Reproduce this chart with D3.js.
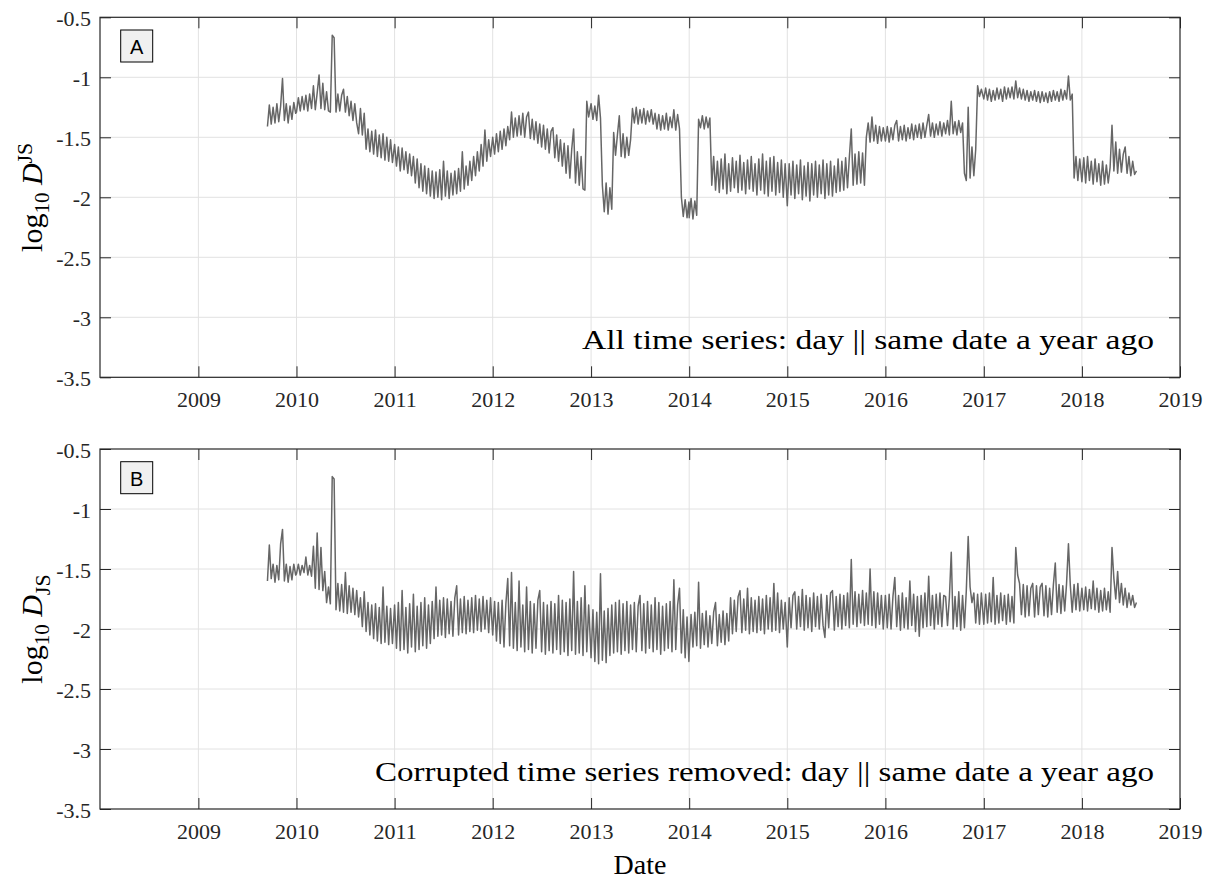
<!DOCTYPE html>
<html><head><meta charset="utf-8">
<script src="https://cdn.jsdelivr.net/npm/d3@7"></script>
<style>body{margin:0;background:#fff}svg{display:block}</style>
</head><body>
<script>
// ---------------- DATA (weekly readings, log10 D_JS) ----------------
const years = [2009,2010,2011,2012,2013,2014,2015,2016,2017,2018];

// Panel A: all time series
const A2009 = [-1.41,-1.23,-1.39,-1.25,-1.38,-1.22,-1.37,-1.24,-1.01,-1.36,-1.22,-1.38,-1.24,-1.35,-1.21,-1.30];
const A2010 = [-1.29,-1.17,-1.28,-1.16,-1.27,-1.15,-1.28,-1.14,-1.26,-1.07,-1.27,-1.13,-0.98,-1.26,-1.05,-1.27,-1.12,-1.28,-1.29,-0.65,-0.67,-1.29,-1.14,-1.28,-1.15,-1.10,-1.29,-1.16,-1.32,-1.20,-1.36,-1.22,-1.38,-1.47,-1.26,-1.48,-1.30,-1.60,-1.43,-1.62,-1.45,-1.64,-1.44,-1.66,-1.48,-1.67,-1.47,-1.69,-1.50,-1.70,-1.52,-1.71];
const A2011 = [-1.56,-1.74,-1.58,-1.78,-1.59,-1.77,-1.62,-1.80,-1.64,-1.82,-1.66,-1.88,-1.68,-1.92,-1.72,-1.95,-1.74,-1.97,-1.76,-1.99,-1.78,-2.01,-1.79,-2.00,-1.77,-2.02,-1.70,-1.99,-1.78,-2.01,-1.80,-1.98,-1.78,-1.97,-1.76,-1.95,-1.62,-1.93,-1.74,-1.90,-1.70,-1.86,-1.66,-1.82,-1.62,-1.78,-1.56,-1.74,-1.44,-1.70,-1.52,-1.66];
const A2012 = [-1.50,-1.64,-1.47,-1.62,-1.45,-1.60,-1.43,-1.57,-1.41,-1.52,-1.29,-1.50,-1.34,-1.49,-1.32,-1.48,-1.30,-1.50,-1.33,-1.29,-1.51,-1.35,-1.52,-1.37,-1.55,-1.39,-1.58,-1.40,-1.60,-1.43,-1.63,-1.45,-1.42,-1.67,-1.48,-1.70,-1.52,-1.74,-1.55,-1.80,-1.57,-1.84,-1.60,-1.43,-1.88,-1.62,-1.90,-1.66,-1.93,-1.94,-1.20,-1.33];
const A2013 = [-1.22,-1.35,-1.24,-1.36,-1.15,-1.34,-1.90,-2.12,-1.88,-2.14,-1.92,-2.10,-1.46,-1.65,-1.48,-1.32,-1.66,-1.47,-1.67,-1.50,-1.65,-1.52,-1.26,-1.38,-1.25,-1.39,-1.27,-1.38,-1.26,-1.39,-1.28,-1.37,-1.27,-1.39,-1.30,-1.43,-1.31,-1.44,-1.32,-1.43,-1.30,-1.44,-1.33,-1.42,-1.27,-1.44,-1.31,-1.43,-2.00,-2.16,-2.02,-2.17,-2.04];
const A2014 = [-2.17,-2.01,-2.18,-2.03,-2.15,-1.35,-1.42,-1.32,-1.43,-1.33,-1.42,-1.34,-1.90,-1.66,-1.94,-1.70,-1.96,-1.68,-1.93,-1.64,-1.97,-1.72,-1.95,-1.67,-1.92,-1.70,-1.96,-1.65,-1.94,-1.71,-1.97,-1.69,-1.93,-1.66,-1.95,-1.72,-1.98,-1.68,-1.94,-1.64,-1.97,-1.70,-1.99,-1.67,-1.95,-1.66,-1.98,-1.71,-1.96,-1.69,-2.00,-1.72];
const A2015 = [-2.07,-1.72,-1.98,-1.70,-2.01,-1.73,-1.97,-1.69,-2.02,-1.74,-1.99,-1.71,-2.03,-1.72,-1.98,-1.70,-2.00,-1.73,-1.97,-1.69,-2.01,-1.72,-1.98,-1.70,-1.99,-1.74,-1.96,-1.68,-1.95,-1.70,-1.94,-1.67,-1.92,-1.66,-1.43,-1.90,-1.64,-1.89,-1.62,-1.88,-1.63,-1.90,-1.50,-1.38,-1.54,-1.33,-1.53,-1.40,-1.55,-1.41,-1.53,-1.42];
const A2016 = [-1.53,-1.41,-1.54,-1.42,-1.52,-1.40,-1.36,-1.53,-1.41,-1.52,-1.40,-1.53,-1.42,-1.51,-1.39,-1.52,-1.40,-1.50,-1.39,-1.51,-1.38,-1.50,-1.40,-1.31,-1.49,-1.38,-1.50,-1.39,-1.48,-1.37,-1.49,-1.38,-1.47,-1.36,-1.48,-1.20,-1.47,-1.37,-1.48,-1.36,-1.46,-1.38,-1.80,-1.86,-1.25,-1.84,-1.58,-1.82,-1.60,-1.07,-1.16,-1.10];
const A2017 = [-1.18,-1.09,-1.19,-1.10,-1.20,-1.11,-1.19,-1.09,-1.18,-1.10,-1.20,-1.08,-1.18,-1.09,-1.17,-1.08,-1.18,-1.03,-1.17,-1.09,-1.18,-1.10,-1.19,-1.11,-1.20,-1.12,-1.19,-1.11,-1.20,-1.12,-1.21,-1.12,-1.20,-1.13,-1.21,-1.12,-1.20,-1.11,-1.19,-1.12,-1.20,-1.10,-1.19,-1.11,-1.18,-0.99,-1.19,-1.14,-1.84,-1.66,-1.86,-1.68];
const A2018 = [-1.87,-1.67,-1.88,-1.66,-1.86,-1.70,-1.89,-1.68,-1.87,-1.72,-1.90,-1.70,-1.89,-1.73,-1.88,-1.75,-1.40,-1.78,-1.54,-1.80,-1.60,-1.79,-1.64,-1.58,-1.80,-1.66,-1.82,-1.70,-1.81,-1.78];

// Panel B: corrupted time series removed
const B2009 = [-1.60,-1.30,-1.58,-1.46,-1.61,-1.47,-1.59,-1.29,-1.17,-1.60,-1.46,-1.61,-1.48,-1.59,-1.46,-1.55];
const B2010 = [-1.54,-1.46,-1.55,-1.47,-1.53,-1.40,-1.55,-1.47,-1.56,-1.31,-1.66,-1.20,-1.67,-1.32,-1.68,-1.52,-1.78,-1.65,-1.79,-0.73,-0.75,-1.84,-1.62,-1.85,-1.63,-1.86,-1.53,-1.87,-1.64,-1.86,-1.66,-1.88,-1.68,-1.90,-1.74,-1.98,-1.69,-2.02,-1.78,-2.05,-1.80,-2.08,-1.79,-2.10,-1.82,-2.12,-1.65,-2.11,-1.81,-2.13,-1.83,-2.12];
const B2011 = [-1.80,-2.16,-1.78,-2.18,-1.68,-2.17,-1.82,-2.20,-1.79,-2.15,-1.71,-2.19,-1.81,-2.17,-1.78,-2.14,-1.74,-2.16,-1.80,-2.12,-1.77,-2.08,-1.65,-2.06,-1.76,-2.05,-1.74,-2.07,-1.75,-2.04,-1.77,-2.06,-1.74,-1.64,-2.05,-1.75,-2.03,-1.73,-2.04,-1.76,-2.02,-1.74,-2.03,-1.72,-2.01,-1.75,-2.02,-1.73,-2.00,-1.76,-2.03,-1.74];
const B2012 = [-2.05,-1.77,-2.10,-1.78,-2.12,-1.76,-2.15,-1.79,-1.58,-2.14,-1.53,-2.16,-1.78,-2.18,-1.60,-2.15,-1.80,-2.19,-1.65,-2.17,-1.77,-2.20,-1.79,-2.16,-1.76,-1.68,-2.19,-1.78,-2.21,-1.80,-2.18,-1.77,-2.20,-1.79,-2.17,-1.72,-2.21,-1.76,-2.19,-1.78,-2.22,-1.75,-2.18,-1.52,-2.21,-1.77,-2.20,-1.74,-2.22,-1.64,-2.19,-1.80];
const B2013 = [-2.24,-1.84,-2.27,-1.86,-2.29,-1.54,-2.26,-1.85,-2.28,-1.83,-2.22,-1.80,-2.20,-1.78,-2.19,-1.76,-2.21,-1.79,-2.18,-1.77,-2.20,-1.80,-2.17,-1.78,-2.19,-1.81,-1.72,-2.18,-1.79,-2.20,-1.77,-2.16,-1.80,-2.19,-1.74,-2.17,-1.78,-2.21,-1.81,-2.18,-1.79,-2.16,-1.77,-2.19,-1.59,-2.17,-1.80,-1.66,-2.20,-1.84,-2.24,-1.90,-2.27];
const B2014 = [-2.20,-1.88,-2.15,-1.86,-2.14,-1.61,-2.16,-1.87,-2.13,-1.85,-2.15,-1.89,-2.12,-1.86,-1.78,-2.14,-1.88,-2.11,-1.85,-2.13,-1.87,-2.10,-1.74,-2.04,-1.76,-2.02,-1.73,-1.68,-2.03,-1.75,-2.01,-1.66,-2.04,-1.74,-2.02,-1.76,-2.03,-1.73,-2.01,-1.75,-2.04,-1.72,-2.00,-1.74,-2.02,-1.62,-2.01,-1.70,-2.03,-1.76,-2.00,-1.78];
const B2015 = [-2.15,-1.74,-1.99,-1.72,-1.69,-2.00,-1.73,-1.98,-1.67,-2.01,-1.72,-1.99,-1.74,-2.02,-1.70,-1.98,-1.73,-2.00,-1.71,-1.97,-2.07,-1.72,-1.99,-1.70,-1.68,-2.01,-1.73,-1.98,-1.71,-2.00,-1.72,-1.97,-1.70,-1.99,-1.42,-1.96,-1.69,-1.98,-1.71,-1.95,-1.68,-1.97,-1.70,-1.96,-1.50,-1.97,-1.69,-1.99,-1.70,-1.96,-1.72,-2.00];
const B2016 = [-1.72,-1.99,-1.71,-2.00,-1.73,-1.57,-1.98,-1.72,-2.01,-1.70,-1.99,-1.74,-2.00,-1.60,-1.97,-1.71,-2.02,-1.73,-2.06,-1.72,-1.99,-1.70,-1.98,-1.56,-1.97,-1.72,-2.00,-1.71,-1.96,-1.70,-1.98,-1.72,-1.73,-1.97,-1.74,-1.36,-2.00,-1.73,-1.98,-1.69,-2.01,-1.72,-1.99,-1.68,-1.23,-1.65,-1.78,-1.70,-1.95,-1.71,-1.96,-1.70];
const B2017 = [-1.96,-1.71,-1.95,-1.70,-1.94,-1.57,-1.96,-1.72,-1.95,-1.70,-1.93,-1.72,-1.96,-1.71,-1.94,-1.73,-1.95,-1.32,-1.55,-1.62,-1.88,-1.63,-1.90,-1.64,-1.89,-1.66,-1.62,-1.90,-1.64,-1.88,-1.65,-1.62,-1.89,-1.64,-1.90,-1.66,-1.88,-1.63,-1.45,-1.86,-1.63,-1.87,-1.64,-1.85,-1.62,-1.29,-1.64,-1.86,-1.63,-1.84,-1.62,-1.85];
const B2018 = [-1.66,-1.84,-1.65,-1.85,-1.67,-1.83,-1.60,-1.84,-1.66,-1.86,-1.68,-1.85,-1.66,-1.84,-1.69,-1.86,-1.32,-1.58,-1.75,-1.52,-1.78,-1.62,-1.80,-1.66,-1.82,-1.70,-1.80,-1.72,-1.82,-1.78];

const yTicks = [-3.5,-3,-2.5,-2,-1.5,-1,-0.5];
const yTickLabels = ["-3.5","-3","-2.5","-2","-1.5","-1","-0.5"];
const xTickYears = [2009,2010,2011,2012,2013,2014,2015,2016,2017,2018,2019];
const panelLetters = ["A","B"];
const panelNotes = ["All time series: day || same date a year ago",
                    "Corrupted time series removed: day || same date a year ago"];
const xLabel = "Date";

// ---------------- BUILD ----------------
const seriesA = [A2009,A2010,A2011,A2012,A2013,A2014,A2015,A2016,A2017,A2018];
const seriesB = [B2009,B2010,B2011,B2012,B2013,B2014,B2015,B2016,B2017,B2018];
function build(arrs){
  const out = [];
  years.forEach((yr,k)=>{
    const start = yr===2009 ? new Date(2009,8,15) : new Date(yr,0,1);
    arrs[k].forEach((v,i)=>out.push({date:d3.timeDay.offset(start,7*i), value:v}));
  });
  return out;
}
const datasets = [build(seriesA), build(seriesB)];

const W=1206,H=881;
const svg = d3.select("body").append("svg").attr("width",W).attr("height",H)
  .style("font-family","'Liberation Serif','Times New Roman',serif");

const left=100,right=1180,ph=360;
const tops=[17.3,449];
const x = d3.scaleTime().domain([new Date(2008,0,1),new Date(2019,0,1)]).range([left,right]);
const xTicks = xTickYears.map(y=>new Date(y,0,1));
const axisCol="#262626", gridCol="#e2e2e2", lineCol="#666666";

tops.forEach((top,p)=>{
  const y = d3.scaleLinear().domain([-3.5,-0.5]).range([top+ph,top]);
  const g = svg.append("g");
  // grid
  g.append("g").selectAll("line").data(xTicks.slice(0,-1)).join("line")
    .attr("x1",d=>x(d)).attr("x2",d=>x(d)).attr("y1",top).attr("y2",top+ph)
    .attr("stroke",gridCol).attr("stroke-width",1);
  g.append("g").selectAll("line").data(yTicks.slice(1,-1)).join("line")
    .attr("x1",left).attr("x2",right).attr("y1",d=>y(d)).attr("y2",d=>y(d))
    .attr("stroke",gridCol).attr("stroke-width",1);
  // series
  const line = d3.line().x(d=>x(d.date)).y(d=>y(d.value));
  g.append("path").datum(datasets[p]).attr("d",line)
    .attr("fill","none").attr("stroke",lineCol).attr("stroke-width",1.5).attr("stroke-linejoin","round");
  // axes (inward ticks)
  const ax = (gen,tr)=>{
    const a = g.append("g").attr("transform",tr).call(gen);
    a.select(".domain").remove();
    a.selectAll(".tick line").attr("stroke",axisCol);
    return a;
  };
  const bot = ax(d3.axisBottom(x).tickValues(xTicks).tickSize(-11).tickFormat(d3.timeFormat("%Y")),`translate(0,${top+ph})`);
  bot.selectAll("text").attr("y",30).attr("dy",null).attr("fill",axisCol)
     .style("font-size","22px").style("font-family","'Liberation Serif',serif");
  ax(d3.axisTop(x).tickValues(xTicks).tickSize(-11).tickFormat(""),`translate(0,${top})`);
  const lf = ax(d3.axisLeft(y).tickValues(yTicks).tickSize(-11).tickFormat((d,i)=>yTickLabels[i]),`translate(${left},0)`);
  lf.selectAll("text").attr("x",-9).attr("dy",8.5).attr("fill",axisCol)
     .style("font-size","22px").style("font-family","'Liberation Serif',serif");
  ax(d3.axisRight(y).tickValues(yTicks).tickSize(-11).tickFormat(""),`translate(${right},0)`);
  // frame
  g.append("rect").attr("x",left).attr("y",top).attr("width",right-left).attr("height",ph)
    .attr("fill","none").attr("stroke",axisCol).attr("stroke-width",1.2);
  // panel letter box
  g.append("rect").attr("x",120.7).attr("y",top+12.7).attr("width",32).attr("height",32)
    .attr("fill","#f0f0f0").attr("stroke","#000").attr("stroke-width",1);
  g.append("text").attr("x",136.7).attr("y",top+36.7).attr("text-anchor","middle")
    .style("font-family","'Liberation Sans',Arial,sans-serif").style("font-size","20px")
    .text(panelLetters[p]);
  // note
  const noteLen = p===0 ? 572 : 779;
  g.append("text").attr("x",1154).attr("y",top+ph-28.3).attr("text-anchor","end")
    .attr("textLength",noteLen).attr("lengthAdjust","spacingAndGlyphs")
    .style("font-size","28px").text(panelNotes[p]);
  // y label
  const yl = g.append("text").attr("transform",`translate(42,${top+ph/2}) rotate(-90)`)
    .attr("text-anchor","middle").style("font-size","30px");
  yl.append("tspan").text("log");
  yl.append("tspan").attr("dy",7).style("font-size","21px").text("10");
  yl.append("tspan").attr("dy",-7).text("\u00a0");
  yl.append("tspan").style("font-style","italic").text("D");
  yl.append("tspan").attr("dy",p===0?-10:8).style("font-size","22px").text("JS");
});

svg.append("text").attr("x",640).attr("y",874).attr("text-anchor","middle")
  .style("font-size","28px").text(xLabel);
</script>
</body></html>
